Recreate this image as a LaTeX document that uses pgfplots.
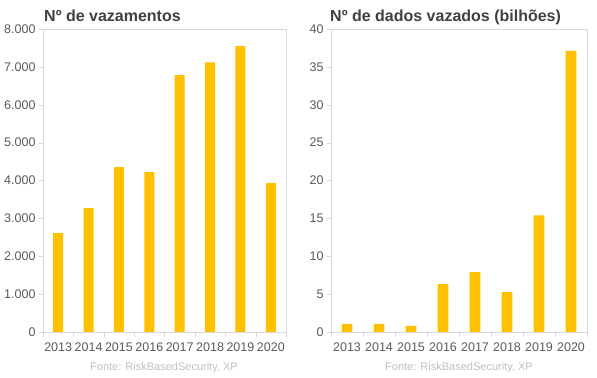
\documentclass[border=0pt]{standalone}
\usepackage{pgfplots}
\pgfplotsset{compat=1.18}
\usepackage{fontspec}
\setmainfont{Liberation Sans}
\definecolor{bar}{HTML}{FFC000}
\definecolor{frame}{HTML}{D9D9D9}
\definecolor{ticktext}{HTML}{595959}
\definecolor{titletext}{HTML}{404040}
\definecolor{srctext}{HTML}{BFBFBF}
\pgfplotsset{
  mystyle/.style={
    scale only axis,
    height=303bp,
    anchor=south west,
    ybar,
    bar width=0.33,
    xmin=-0.5, xmax=7.5,
    ymin=0,
    xtick={0,...,7},
    xticklabels={2013,2014,2015,2016,2017,2018,2019,2020},
    minor xtick={-0.5,0.5,...,7.5},
    major x tick style={draw=none},
    minor x tick style={draw=frame},
    minor tick length=5bp,
    major tick length=4bp,
    tick align=outside,
    axis line style={draw=frame},
    y tick style={draw=frame},
    ticklabel style={font=\fontsize{12.5bp}{14bp}\selectfont, text=ticktext},
    /pgf/number format/assume math mode=true,
    /pgf/number format/1000 sep={.},
    xtick pos=bottom, ytick pos=left,
    x tick label style={yshift=-3bp},
  }
}
\begin{document}
\begin{tikzpicture}
\path[use as bounding box] (0,0) rectangle (597bp,378bp);
\begin{axis}[mystyle, at={(43bp,46bp)}, width=243bp, ymax=8000, ytick={0,1000,...,8000}]
\addplot[fill=bar, draw=none] coordinates {(0,2610) (1,3270) (2,4350) (3,4220) (4,6780) (5,7120) (6,7550) (7,3930)};
\end{axis}
\begin{axis}[mystyle, at={(331bp,46bp)}, width=256bp, ymax=40, ytick={0,5,...,40}]
\addplot[fill=bar, draw=none] coordinates {(0,1.06) (1,1.06) (2,0.8) (3,6.33) (4,7.9) (5,5.28) (6,15.4) (7,37.1)};
\end{axis}
\node[anchor=base west, font=\fontsize{16bp}{19bp}\selectfont\bfseries, text=titletext, inner sep=0] at (44bp,356bp) {Nº de vazamentos};
\node[anchor=base west, font=\fontsize{16bp}{19bp}\selectfont\bfseries, text=titletext, inner sep=0] at (330bp,356bp) {Nº de dados vazados (bilhões)};
\node[anchor=base, font=\fontsize{11bp}{13bp}\selectfont, text=srctext, inner sep=0] at (164bp,8bp) {Fonte: RiskBasedSecurity, XP};
\node[anchor=base, font=\fontsize{11bp}{13bp}\selectfont, text=srctext, inner sep=0] at (459bp,8bp) {Fonte: RiskBasedSecurity, XP};
\end{tikzpicture}
\end{document}
